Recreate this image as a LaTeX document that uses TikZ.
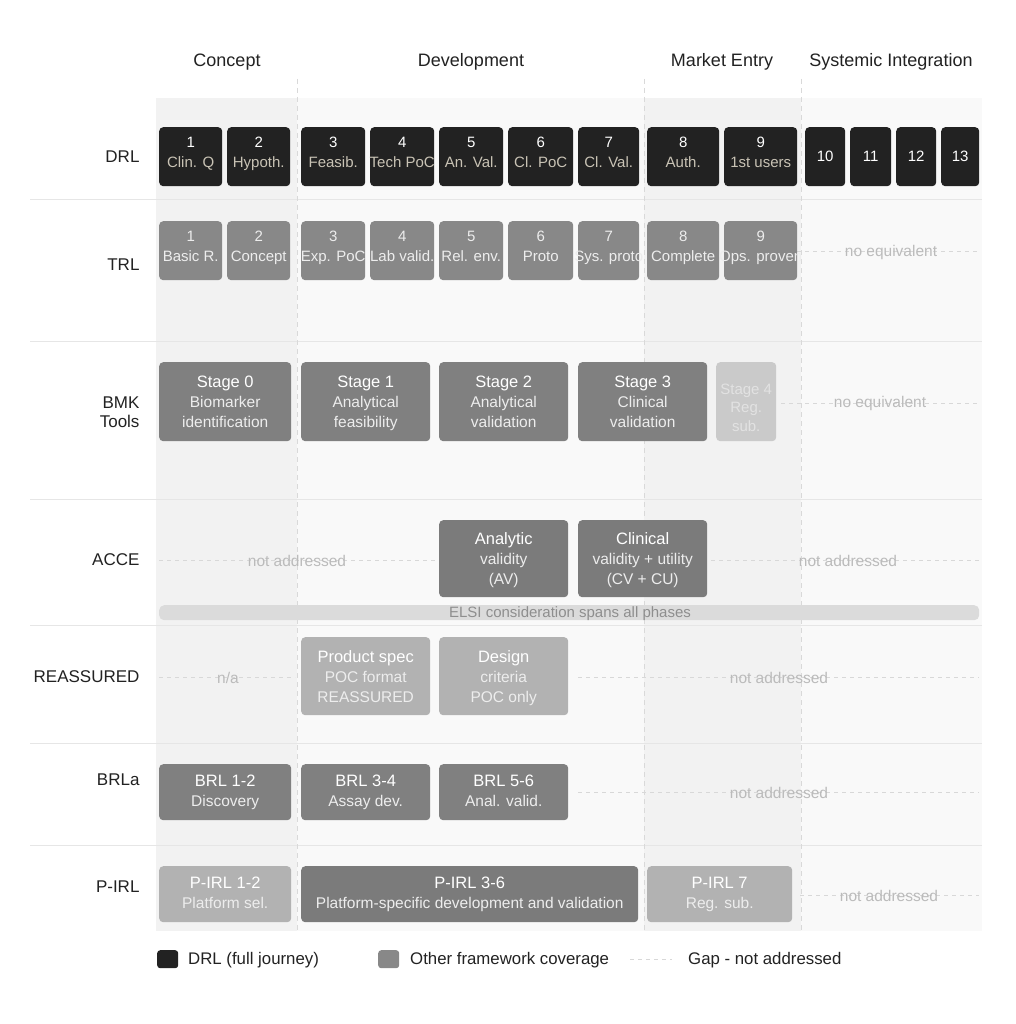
\documentclass[tikz,border=0pt]{standalone}
\usepackage{fontspec}
\setmainfont{Liberation Sans}
\definecolor{cDRL}{HTML}{222222}
\definecolor{cDs}{HTML}{C9C3B5}
\definecolor{cTRL}{HTML}{888888}
\definecolor{cMid}{HTML}{808080}
\definecolor{cDark}{HTML}{7B7B7B}
\definecolor{cLight}{HTML}{B2B2B2}
\definecolor{cFaint}{HTML}{CACACA}
\definecolor{cFaintT}{HTML}{E2E2E2}
\definecolor{cSub}{HTML}{EDEDED}
\definecolor{cShadeA}{HTML}{F2F2F2}
\definecolor{cShadeB}{HTML}{F9F9F9}
\definecolor{cSep}{HTML}{E6E6E6}
\definecolor{cVdash}{HTML}{D9D9D9}
\definecolor{cGap}{HTML}{D8D8D8}
\definecolor{cGapT}{HTML}{BBBBBB}
\definecolor{cElsi}{HTML}{DBDBDB}
\definecolor{cElsiT}{HTML}{8E8E8E}
\definecolor{cInk}{HTML}{222222}
\newcommand\fsz[2]{\fontsize{#1}{#2}\selectfont}
\newcommand\ctr[1]{\makebox[0pt]{#1}}
\newcommand\dstr{\rule[-9pt]{0pt}{9pt}}
\newcommand\bstr{\rule[-3.5pt]{0pt}{3.5pt}}
\newcommand\tstr{\rule{0pt}{16pt}}
\tikzset{
  cellbase/.style={rounded corners=4pt, inner sep=0pt, anchor=north west, align=center},
  drlbox/.style={cellbase, fill=cDRL, text=white, font=\fsz{15}{20}, minimum height=59pt},
  trlbox/.style={cellbase, fill=cTRL, text=cSub, font=\fsz{15}{20}, minimum height=59pt},
  midbox/.style={cellbase, fill=cMid, text=cSub, font=\fsz{15.5}{20}},
  darkbox/.style={cellbase, fill=cDark, text=cSub, font=\fsz{15.5}{20}},
  lightbox/.style={cellbase, fill=cLight, text=cSub, font=\fsz{15.5}{20}},
  faintbox/.style={cellbase, fill=cFaint, text=cFaintT, font=\fsz{15}{18.5}},
  rowlabel/.style={anchor=east, align=right, text=cInk, font=\fsz{17}{19}},
  phase/.style={text=cInk, font=\fsz{18}{20}, text height=13pt, text depth=4pt, inner sep=0pt},
  gapline/.style={cGap, line width=0.8pt, dash pattern=on 4pt off 4pt},
  gaptext/.style={text=cGapT, font=\fsz{15.5}{18}, inner sep=0pt},
  sepline/.style={cSep, line width=1pt},
  vdash/.style={cVdash, line width=0.8pt, dash pattern=on 5pt off 4pt},
  legtext/.style={anchor=west, text=cInk, font=\fsz{16.8}{20}, inner sep=0pt},
}
\newcommand\ttl[1]{\ctr{\fsz{16.5}{20}\color{white}#1}}
\begin{document}
\begin{tikzpicture}[x=1pt,y=-1pt]
\useasboundingbox (0,0) rectangle (1015,1024);
\fill[white] (0,0) rectangle (1015,1024);
% phase shading
\fill[cShadeA] (156,98) rectangle (297,931);
\fill[cShadeB] (297,98) rectangle (644,931);
\fill[cShadeA] (644,98) rectangle (801,931);
\fill[cShadeB] (801,98) rectangle (982,931);
% row separators
\foreach \yy in {200,341,499,625,743,845} \draw[sepline] (30,\yy) -- (982,\yy);
% phase dividers
\coordinate (v1t) at (297,79); \coordinate (v1b) at (297,931);
\coordinate (v2t) at (644,79); \coordinate (v2b) at (644,931);
\coordinate (v3t) at (801,79); \coordinate (v3b) at (801,931);
\draw[vdash] (v1t) -- (v1b);
\draw[vdash] (v2t) -- (v2b);
\draw[vdash] (v3t) -- (v3b);
% phase headers
\node[phase] (hConcept) at (227,62) {Concept};
\node[phase] (hDev) at (471,62) {Development};
\node[phase] (hMarket) at (722,62) {Market Entry};
\node[phase] (hSys) at (891,62) {Systemic Integration};
% row labels
\node[rowlabel] (lDRL) at (143,157) {DRL};
\node[rowlabel] (lTRL) at (143,265) {TRL};
\node[rowlabel] (lBMK) at (143,412) {BMK\\Tools};
\node[rowlabel] (lACCE) at (143,560) {ACCE};
\node[rowlabel] (lREA) at (143,677) {REASSURED};
\node[rowlabel] (lBRL) at (143,780) {BRLa};
\node[rowlabel] (lPIRL) at (143,887) {P-IRL};
% gap lines (drawn below texts)
\coordinate (gT1) at (797,251); \coordinate (gT2) at (979,251);
\coordinate (gB1) at (781,403); \coordinate (gB2) at (979,403);
\coordinate (gA1) at (159,560); \coordinate (gA2) at (437,560);
\coordinate (gA3) at (711,560); \coordinate (gA4) at (979,560);
\coordinate (gR1) at (159,677); \coordinate (gR2) at (295,677);
\coordinate (gR3) at (578,677); \coordinate (gR4) at (979,677);
\coordinate (gL1) at (578,792); \coordinate (gL2) at (979,792);
\coordinate (gP1) at (800,895); \coordinate (gP2) at (979,895);
\draw[gapline] (gT1) -- (gT2);
\draw[gapline] (gB1) -- (gB2);
\draw[gapline] (gA1) -- (gA2);
\draw[gapline] (gA3) -- (gA4);
\draw[gapline] (gR1) -- (gR2);
\draw[gapline] (gR3) -- (gR4);
\draw[gapline] (gL1) -- (gL2);
\draw[gapline] (gP1) -- (gP2);
\node[gaptext] (tT) at (891,252) {no equivalent};
\node[gaptext] (tB) at (880,403) {no equivalent};
\node[gaptext] (tA1) at (297,561) {not addressed};
\node[gaptext] (tA2) at (848,561) {not addressed};
\node[gaptext] (tR1) at (228,678) {n/a};
\node[gaptext] (tR2) at (779,678) {not addressed};
\node[gaptext] (tL) at (779,793) {not addressed};
\node[gaptext] (tP) at (889,896) {not addressed};
% DRL row
\node[drlbox, minimum width=63pt] (d1) at (159,127) {\ctr{1}\\\ctr{\color{cDs}Clin. Q\dstr}};
\node[drlbox, minimum width=63pt] (d2) at (227,127) {\ctr{2}\\\ctr{\color{cDs}Hypoth.\dstr}};
\node[drlbox, minimum width=64pt] (d3) at (301,127) {\ctr{3}\\\ctr{\color{cDs}Feasib.\dstr}};
\node[drlbox, minimum width=64pt] (d4) at (370,127) {\ctr{4}\\\ctr{\color{cDs}Tech PoC\dstr}};
\node[drlbox, minimum width=64pt] (d5) at (439,127) {\ctr{5}\\\ctr{\color{cDs}An. Val.\dstr}};
\node[drlbox, minimum width=65pt] (d6) at (508,127) {\ctr{6}\\\ctr{\color{cDs}Cl. PoC\dstr}};
\node[drlbox, minimum width=61pt] (d7) at (578,127) {\ctr{7}\\\ctr{\color{cDs}Cl. Val.\dstr}};
\node[drlbox, minimum width=72pt] (d8) at (647,127) {\ctr{8}\\\ctr{\color{cDs}Auth.\dstr}};
\node[drlbox, minimum width=73pt] (d9) at (724,127) {\ctr{9}\\\ctr{\color{cDs}1st users\dstr}};
\node[drlbox, minimum width=40pt] (d10) at (805,127) {10};
\node[drlbox, minimum width=41pt] (d11) at (850,127) {11};
\node[drlbox, minimum width=40pt] (d12) at (896,127) {12};
\node[drlbox, minimum width=38pt] (d13) at (941,127) {13};
% TRL row
\node[trlbox, minimum width=63pt] (t1) at (159,221) {\ctr{1}\\\ctr{Basic R.\dstr}};
\node[trlbox, minimum width=63pt] (t2) at (227,221) {\ctr{2}\\\ctr{Concept\dstr}};
\node[trlbox, minimum width=64pt] (t3) at (301,221) {\ctr{3}\\\ctr{Exp. PoC\dstr}};
\node[trlbox, minimum width=64pt] (t4) at (370,221) {\ctr{4}\\\ctr{Lab valid.\dstr}};
\node[trlbox, minimum width=64pt] (t5) at (439,221) {\ctr{5}\\\ctr{Rel. env.\dstr}};
\node[trlbox, minimum width=65pt] (t6) at (508,221) {\ctr{6}\\\ctr{Proto\dstr}};
\node[trlbox, minimum width=61pt] (t7) at (578,221) {\ctr{7}\\\ctr{Sys. proto\dstr}};
\node[trlbox, minimum width=72pt] (t8) at (647,221) {\ctr{8}\\\ctr{Complete\dstr}};
\node[trlbox, minimum width=73pt] (t9) at (724,221) {\ctr{9}\\\ctr{Ops. proven\dstr}};
% BMK row
\node[midbox, minimum width=132pt, minimum height=79pt] (b0) at (159,362) {\ttl{Stage 0\tstr}\\\ctr{Biomarker}\\\ctr{identification\bstr}};
\node[midbox, minimum width=129pt, minimum height=79pt] (b1) at (301,362) {\ttl{Stage 1\tstr}\\\ctr{Analytical}\\\ctr{feasibility\bstr}};
\node[midbox, minimum width=129pt, minimum height=79pt] (b2) at (439,362) {\ttl{Stage 2\tstr}\\\ctr{Analytical}\\\ctr{validation\bstr}};
\node[midbox, minimum width=129pt, minimum height=79pt] (b3) at (578,362) {\ttl{Stage 3\tstr}\\\ctr{Clinical}\\\ctr{validation\bstr}};
\node[faintbox, minimum width=60pt, minimum height=79pt] (b4) at (716,362) {\ctr{Stage 4\rule{0pt}{26pt}}\\\ctr{Reg.}\\\ctr{sub.\bstr}};
% ACCE row
\node[darkbox, minimum width=129pt, minimum height=77pt] (a1) at (439,520) {\ttl{Analytic\tstr}\\\ctr{validity}\\\ctr{(AV)\bstr}};
\node[darkbox, minimum width=129pt, minimum height=77pt] (a2) at (578,520) {\ttl{Clinical\tstr}\\\ctr{validity + utility}\\\ctr{(CV + CU)\bstr}};
\node[cellbase, rounded corners=5pt, fill=cElsi, minimum width=820pt, minimum height=15pt] (elsi) at (159,605) {};
\node[text=cElsiT, font=\fsz{15}{18}, inner sep=0pt] (elsit) at (570,614) {ELSI consideration spans all phases};
% REASSURED row
\node[lightbox, minimum width=129pt, minimum height=78pt] (r1) at (301,637) {\ttl{Product spec\tstr}\\\ctr{POC format}\\\ctr{REASSURED\bstr}};
\node[lightbox, minimum width=129pt, minimum height=78pt] (r2) at (439,637) {\ttl{Design\tstr}\\\ctr{criteria}\\\ctr{POC only\bstr}};
% BRLa row
\node[midbox, minimum width=132pt, minimum height=56pt] (br1) at (159,764) {\ttl{BRL 1-2}\\\ctr{Discovery\bstr}};
\node[midbox, minimum width=129pt, minimum height=56pt] (br2) at (301,764) {\ttl{BRL 3-4}\\\ctr{Assay dev.\bstr}};
\node[midbox, minimum width=129pt, minimum height=56pt] (br3) at (439,764) {\ttl{BRL 5-6}\\\ctr{Anal. valid.\bstr}};
% P-IRL row
\node[lightbox, minimum width=132pt, minimum height=56pt] (p1) at (159,866) {\ttl{P-IRL 1-2}\\\ctr{Platform sel.\bstr}};
\node[darkbox, minimum width=337pt, minimum height=56pt] (p2) at (301,866) {\ttl{P-IRL 3-6}\\\ctr{Platform-specific development and validation\bstr}};
\node[lightbox, minimum width=145pt, minimum height=56pt] (p3) at (647,866) {\ttl{P-IRL 7}\\\ctr{Reg. sub.\bstr}};
% legend
\node[cellbase, rounded corners=3pt, fill=cDRL, minimum width=21pt, minimum height=18pt] (lg1) at (157,950) {};
\node[legtext] (lg1t) at (188,960.5) {DRL (full journey)};
\node[cellbase, rounded corners=3pt, fill=cTRL, minimum width=21pt, minimum height=18pt] (lg2) at (378,950) {};
\node[legtext] (lg2t) at (410,960.5) {Other framework coverage};
\coordinate (lg3a) at (630,959); \coordinate (lg3b) at (672,959);
\draw[gapline] (lg3a) -- (lg3b);
\node[legtext] (lg3t) at (688,960.5) {Gap - not addressed};
\end{tikzpicture}
\end{document}
